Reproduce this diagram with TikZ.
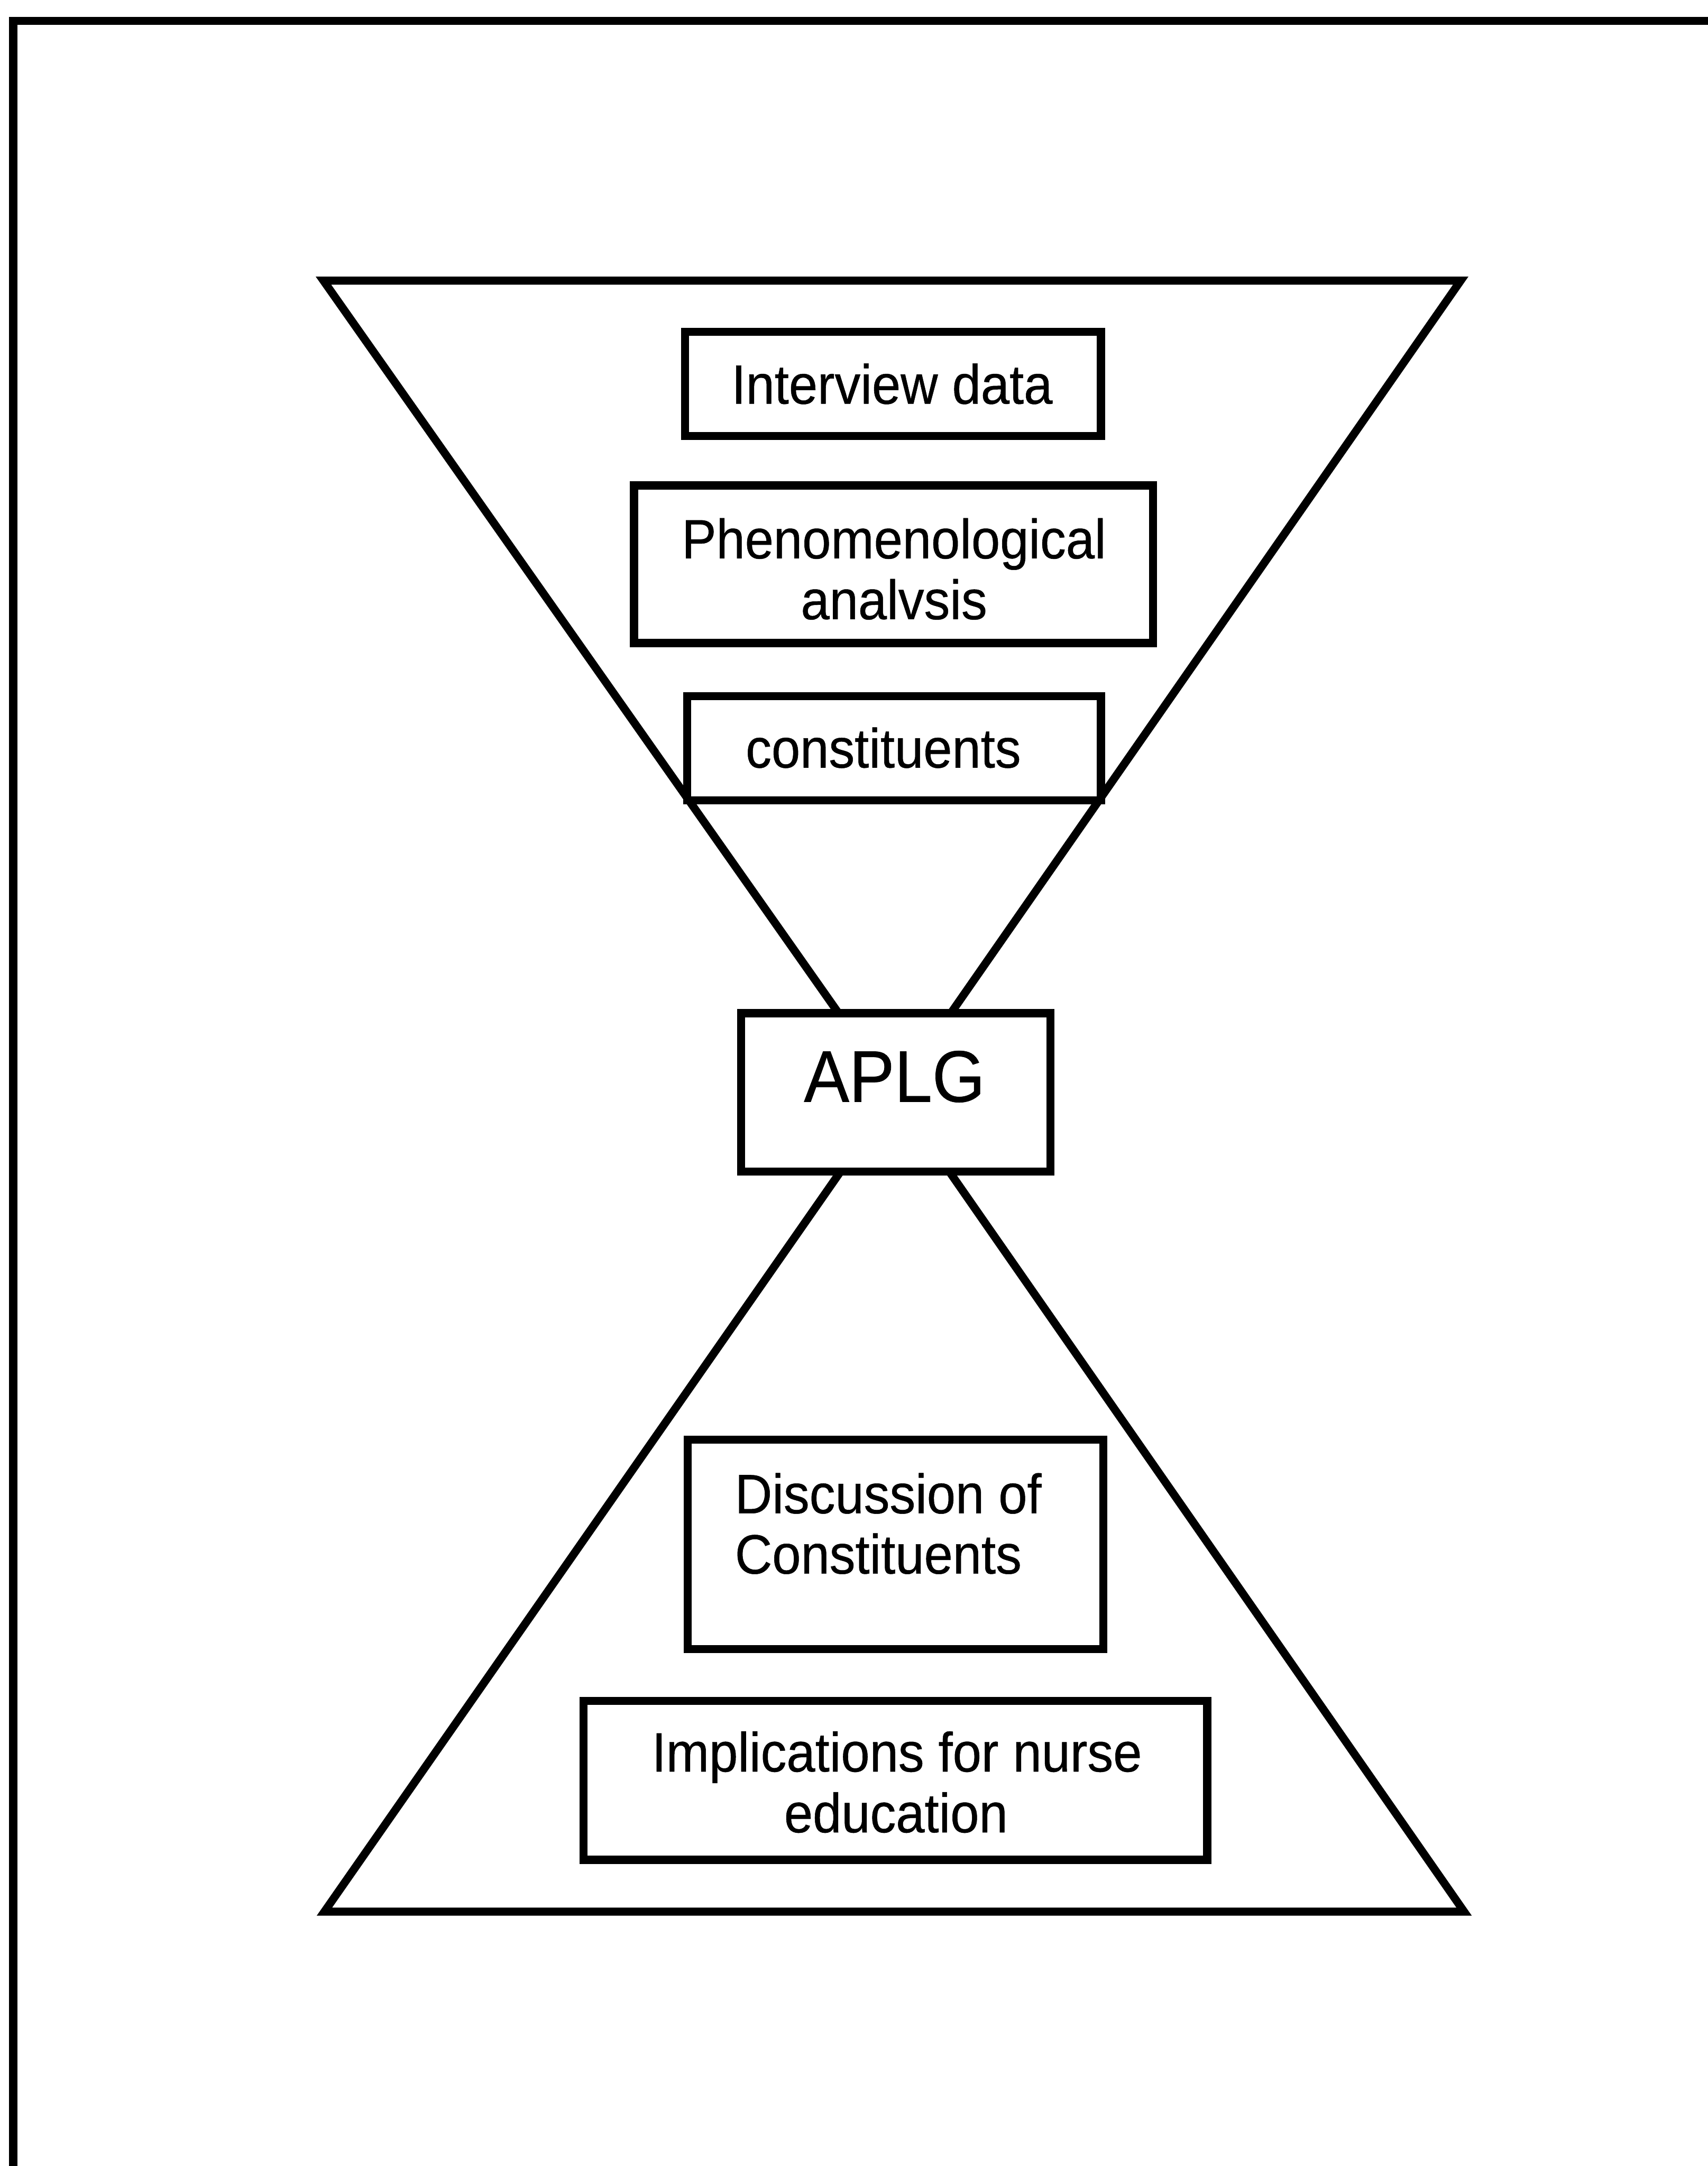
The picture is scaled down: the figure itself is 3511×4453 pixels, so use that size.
\documentclass[tikz,border=0pt]{standalone}
\usepackage{fontspec}
\setmainfont{Liberation Sans}[FakeStretch=0.93,FakeBold=0.5]
\begin{document}
\begin{tikzpicture}[x=0.1pt,y=-0.1pt,
  line join=miter,
  frameline/.style={line width=1.7pt},
  tri/.style={line width=1.65pt},
  box/.style={draw, line width=1.65pt, fill=white, rectangle, inner sep=0pt},
  txt/.style={inner sep=0pt, font=\fontsize{11.4}{12.5}\selectfont},
  big/.style={inner sep=0pt, font=\fontsize{15}{17}\selectfont}]
\useasboundingbox (0,0) rectangle (3511,4453);
% page frame (left and top edges only)
\coordinate (fb) at (27,4453);
\coordinate (fc) at (27,43);
\coordinate (fr) at (3511,43);
\draw[frameline] (fb) -- (fc) -- (fr);
% hourglass
\coordinate (tl) at (665,577);
\coordinate (tr) at (3003,577);
\coordinate (apex) at (1840,2248);
\coordinate (bl) at (667,3930);
\coordinate (br) at (3010,3930);
\draw[tri] (tl) -- (tr) -- (apex) -- cycle;
\draw[tri] (bl) -- (br) -- (apex) -- cycle;
% boxes
\node[box, minimum width=85.5pt, minimum height=21.4pt] (interview) at (1836,789) {};
\node[box, minimum width=106.7pt, minimum height=32.4pt] (phen) at (1837,1160) {};
\node[box, minimum width=85.1pt, minimum height=21.4pt] (constit) at (1838,1538) {};
\node[box, minimum width=63.6pt, minimum height=32.6pt] (aplg) at (1842,2246) {};
\node[box, minimum width=85.4pt, minimum height=43.1pt] (disc) at (1841,3175) {};
\node[box, minimum width=128.2pt, minimum height=32.7pt] (impl) at (1841,3660) {};
% texts
\node[txt, anchor=base] (t1) at (1834,830) {Interview data};
\node[txt, anchor=base] (t2a) at (1838,1148) {Phenomenological};
\node[txt, anchor=base] (t2b) at (1838,1273) {analvsis};
\node[txt, anchor=base] (t3) at (1816,1578) {constituents};
\node[big, anchor=base] (t4) at (1839,2265) {APLG};
\node[txt, anchor=base west] (t5a) at (1509,3111) {Discussion of};
\node[txt, anchor=base west] (t5b) at (1509,3235) {Constituents};
\node[txt, anchor=base] (t6a) at (1844,3642) {Implications for nurse};
\node[txt, anchor=base] (t6b) at (1842,3767) {education};
\end{tikzpicture}
\end{document}
